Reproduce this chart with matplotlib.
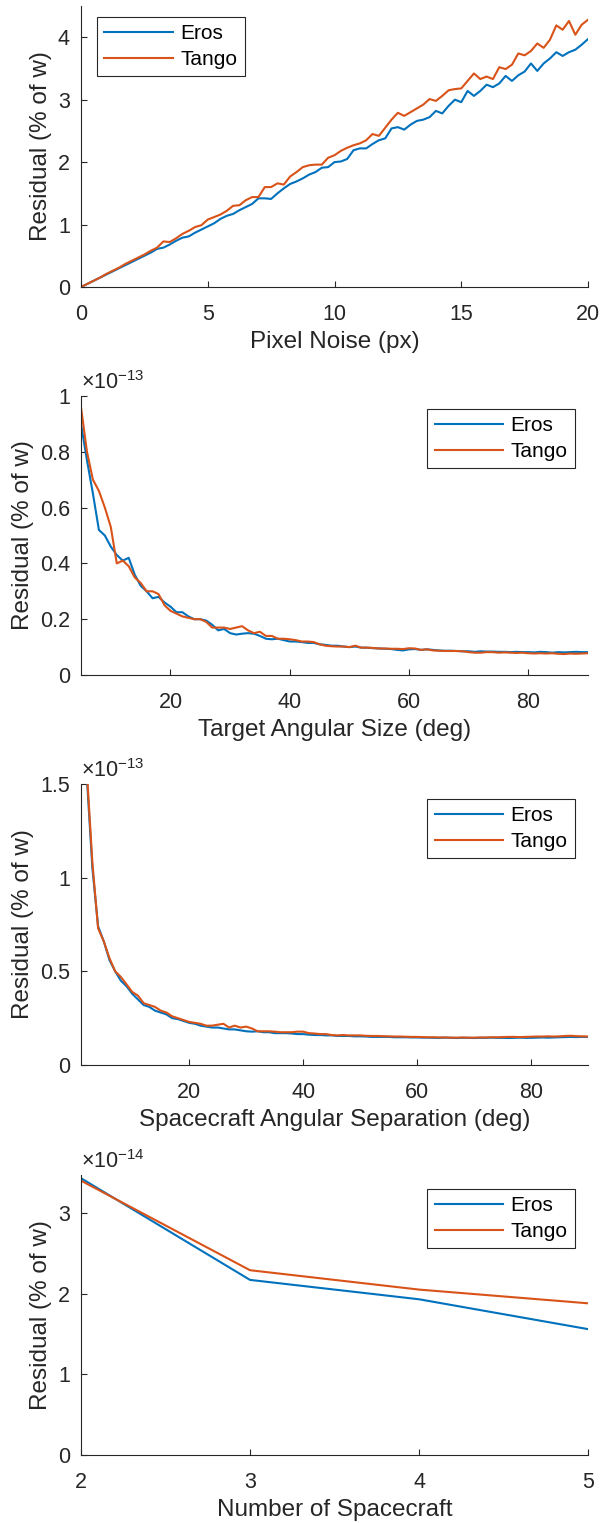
import numpy as np
import matplotlib
matplotlib.use("Agg")
import matplotlib.pyplot as plt
from matplotlib.ticker import FuncFormatter, FixedLocator

plt.rcParams['font.family'] = ['Liberation Sans', 'DejaVu Sans']
plt.rcParams['mathtext.fontset'] = 'custom'
plt.rcParams['mathtext.rm'] = 'Liberation Sans'
plt.rcParams['mathtext.it'] = 'Liberation Sans:italic'
plt.rcParams['mathtext.bf'] = 'Liberation Sans:bold'

EROS_C = '#0072BD'
TANGO_C = '#D95319'
AX_C = '#262626'

# ---------------- Data ----------------
# Panel 1: pixel noise
noise_px = [0.0, 0.25, 0.5, 0.75, 1.0, 1.25, 1.5, 1.75, 2.0, 2.25, 2.5, 2.75,
            3.0, 3.25, 3.5, 3.75, 4.0, 4.25, 4.5, 4.75, 5.0, 5.25, 5.5, 5.75,
            6.0, 6.25, 6.5, 6.75, 7.0, 7.25, 7.5, 7.75, 8.0, 8.25, 8.5, 8.75,
            9.0, 9.25, 9.5, 9.75, 10.0, 10.25, 10.5, 10.75, 11.0, 11.25, 11.5,
            11.75, 12.0, 12.25, 12.5, 12.75, 13.0, 13.25, 13.5, 13.75, 14.0,
            14.25, 14.5, 14.75, 15.0, 15.25, 15.5, 15.75, 16.0, 16.25, 16.5,
            16.75, 17.0, 17.25, 17.5, 17.75, 18.0, 18.25, 18.5, 18.75, 19.0,
            19.25, 19.5, 19.75, 20.0]
noise_eros = [0.00, 0.05, 0.10, 0.15, 0.20, 0.25, 0.30, 0.35, 0.40, 0.45, 0.50, 0.55,
              0.61, 0.63, 0.68, 0.74, 0.79, 0.81, 0.87, 0.92, 0.97, 1.02, 1.09, 1.14,
              1.17, 1.23, 1.28, 1.33, 1.42, 1.42, 1.41, 1.50, 1.58, 1.65, 1.69, 1.74,
              1.80, 1.84, 1.91, 1.92, 2.00, 2.01, 2.05, 2.19, 2.22, 2.22, 2.29,
              2.35, 2.38, 2.54, 2.56, 2.52, 2.60, 2.66, 2.68, 2.72, 2.82,
              2.78, 2.90, 3.00, 2.96, 3.14, 3.06, 3.14, 3.24, 3.20, 3.26,
              3.38, 3.30, 3.39, 3.45, 3.58, 3.46, 3.58, 3.66, 3.76, 3.70,
              3.76, 3.80, 3.88, 3.97]
noise_tango = [0.00, 0.05, 0.10, 0.15, 0.21, 0.26, 0.31, 0.37, 0.42, 0.47, 0.52, 0.58,
               0.63, 0.73, 0.72, 0.78, 0.85, 0.90, 0.96, 0.99, 1.08, 1.12, 1.16, 1.22,
               1.30, 1.31, 1.39, 1.44, 1.44, 1.60, 1.60, 1.66, 1.64, 1.77, 1.84, 1.92,
               1.95, 1.96, 1.96, 2.07, 2.11, 2.18, 2.23, 2.27, 2.30, 2.35, 2.45,
               2.42, 2.55, 2.68, 2.79, 2.74, 2.80, 2.86, 2.92, 3.01, 2.98,
               3.06, 3.15, 3.17, 3.18, 3.30, 3.42, 3.33, 3.37, 3.33, 3.52,
               3.49, 3.56, 3.74, 3.71, 3.78, 3.90, 3.83, 3.96, 4.19, 4.12,
               4.26, 4.04, 4.20, 4.28]

# Panel 2: target angular size (values in units of 1e-13)
size_deg = list(range(5, 91))
size_eros = [0.90, 0.77, 0.65, 0.52, 0.50, 0.46, 0.43, 0.41, 0.42, 0.36,
             0.32, 0.30, 0.275, 0.28, 0.26, 0.245, 0.225, 0.225, 0.21, 0.20,
             0.20, 0.195, 0.18, 0.16, 0.165, 0.15, 0.145, 0.148, 0.15, 0.148,
             0.14, 0.13, 0.128, 0.13, 0.125, 0.12, 0.12, 0.118, 0.115, 0.115,
             0.11, 0.108, 0.105, 0.105, 0.102, 0.10, 0.102, 0.098, 0.098, 0.096,
             0.095, 0.094, 0.093, 0.09, 0.088, 0.092, 0.093, 0.09, 0.092, 0.09,
             0.088, 0.087, 0.087, 0.086, 0.085, 0.085, 0.083, 0.085, 0.084, 0.084,
             0.083, 0.083, 0.082, 0.083, 0.082, 0.082, 0.081, 0.083, 0.082, 0.080,
             0.082, 0.081, 0.082, 0.083, 0.082, 0.082]
size_tango = [0.96, 0.80, 0.70, 0.66, 0.60, 0.53, 0.40, 0.41, 0.39, 0.35,
              0.33, 0.30, 0.30, 0.29, 0.25, 0.23, 0.22, 0.21, 0.205, 0.20,
              0.20, 0.19, 0.17, 0.17, 0.17, 0.165, 0.17, 0.175, 0.16, 0.15,
              0.155, 0.14, 0.14, 0.13, 0.13, 0.128, 0.125, 0.12, 0.12, 0.118,
              0.11, 0.105, 0.103, 0.102, 0.102, 0.10, 0.105, 0.098, 0.098, 0.097,
              0.095, 0.095, 0.094, 0.094, 0.093, 0.096, 0.095, 0.09, 0.092, 0.088,
              0.087, 0.086, 0.086, 0.086, 0.085, 0.082, 0.080, 0.080, 0.082, 0.082,
              0.080, 0.081, 0.080, 0.079, 0.080, 0.078, 0.077, 0.078, 0.077, 0.078,
              0.076, 0.075, 0.077, 0.076, 0.077, 0.078]

# Panel 3: spacecraft angular separation (values in units of 1e-13)
sep_deg = list(range(1, 91))
sep_eros = [3.20, 1.55, 1.05, 0.74, 0.66, 0.56, 0.50, 0.45, 0.42, 0.38,
            0.35, 0.32, 0.31, 0.29, 0.28, 0.27, 0.25, 0.245, 0.235, 0.225,
            0.22, 0.21, 0.205, 0.20, 0.20, 0.195, 0.19, 0.19, 0.185, 0.18,
            0.178, 0.18, 0.175, 0.175, 0.17, 0.17, 0.17, 0.168, 0.165, 0.165,
            0.162, 0.16, 0.16, 0.158, 0.158, 0.155, 0.155, 0.155, 0.153, 0.153,
            0.152, 0.150, 0.150, 0.150, 0.150, 0.148, 0.148, 0.148, 0.147, 0.147,
            0.146, 0.146, 0.145, 0.145, 0.146, 0.145, 0.144, 0.145, 0.145, 0.144,
            0.145, 0.145, 0.146, 0.145, 0.145, 0.144, 0.145, 0.146, 0.145, 0.145,
            0.146, 0.147, 0.146, 0.147, 0.148, 0.149, 0.150, 0.149, 0.150, 0.150]
sep_tango = [3.20, 1.58, 1.08, 0.73, 0.66, 0.57, 0.50, 0.47, 0.43, 0.39,
             0.37, 0.33, 0.32, 0.31, 0.29, 0.28, 0.26, 0.25, 0.24, 0.23,
             0.225, 0.22, 0.21, 0.21, 0.215, 0.22, 0.20, 0.21, 0.20, 0.205,
             0.195, 0.18, 0.18, 0.18, 0.178, 0.175, 0.175, 0.175, 0.178, 0.178,
             0.17, 0.168, 0.165, 0.165, 0.16, 0.158, 0.16, 0.158, 0.158, 0.158,
             0.156, 0.155, 0.155, 0.154, 0.153, 0.152, 0.152, 0.151, 0.150, 0.150,
             0.149, 0.148, 0.148, 0.147, 0.147, 0.146, 0.146, 0.147, 0.146, 0.146,
             0.147, 0.147, 0.148, 0.148, 0.149, 0.150, 0.150, 0.149, 0.150, 0.151,
             0.152, 0.152, 0.153, 0.152, 0.153, 0.155, 0.156, 0.154, 0.153, 0.152]

# Panel 4: number of spacecraft (values in units of 1e-14)
n_sc = [2, 3, 4, 5]
n_eros = [3.43, 2.17, 1.93, 1.56]
n_tango = [3.40, 2.29, 2.05, 1.88]

series_labels = ['Eros', 'Tango']

# ---------------- Figure ----------------
W, H = 602, 1523
fig = plt.figure(figsize=(W / 100, H / 100), dpi=100)

def axes_px(left, right, top, bottom):
    return fig.add_axes([left / W, 1 - bottom / H, (right - left) / W, (bottom - top) / H])

TICK_FS = 15.5
LABEL_FS = 17.5
LEG_FS = 15

def style(ax):
    for s in ['top', 'right']:
        ax.spines[s].set_visible(False)
    for s in ['left', 'bottom']:
        ax.spines[s].set_color(AX_C)
        ax.spines[s].set_linewidth(0.8)
    ax.tick_params(direction='in', length=4, width=0.8, color=AX_C,
                   labelcolor=AX_C, labelsize=TICK_FS)
    ax.tick_params(axis='x', pad=12)
    ax.tick_params(axis='y', pad=8)

def legend(ax, loc, anchor):
    leg = ax.legend(series_labels, loc=loc, bbox_to_anchor=anchor,
                    fontsize=LEG_FS, frameon=True,
                    fancybox=False, edgecolor=AX_C, framealpha=1,
                    handlelength=3.3, handletextpad=0.35, labelspacing=0.33,
                    borderpad=0.35, borderaxespad=0.0)
    leg.get_frame().set_linewidth(0.8)
    for t in leg.get_texts():
        t.set_color('black')

def exp_text(ax, txt):
    ax.text(0.0, 1.008, txt, transform=ax.transAxes, ha='left', va='bottom',
            fontsize=TICK_FS, color=AX_C)

def scaled_fmt(scale):
    return FuncFormatter(lambda v, p: f"{v / scale:g}")

LW = 1.5

# Panel 1
ax1 = axes_px(81, 588, 6, 287)
ax1.plot(noise_px, noise_eros, color=EROS_C, lw=LW)
ax1.plot(noise_px, noise_tango, color=TANGO_C, lw=LW)
ax1.set_xlim(0, 20)
ax1.set_ylim(0, 4.5)
ax1.xaxis.set_major_locator(FixedLocator([0, 5, 10, 15, 20]))
ax1.yaxis.set_major_locator(FixedLocator([0, 1, 2, 3, 4]))
ax1.set_xlabel('Pixel Noise (px)', fontsize=LABEL_FS, color=AX_C, labelpad=4.5)
ax1.set_ylabel('Residual (% of w)', fontsize=LABEL_FS, color=AX_C)
style(ax1)
legend(ax1, 'upper left', (16 / 507, 1 - 11 / 281))

# Panel 2
s13 = 1e-13
ax2 = axes_px(81, 588, 396, 675)
ax2.plot(size_deg, [v * s13 for v in size_eros], color=EROS_C, lw=LW)
ax2.plot(size_deg, [v * s13 for v in size_tango], color=TANGO_C, lw=LW)
ax2.set_xlim(5, 90)
ax2.set_ylim(0, 1.0 * s13)
ax2.xaxis.set_major_locator(FixedLocator([20, 40, 60, 80]))
ax2.yaxis.set_major_locator(FixedLocator([v * s13 for v in [0, 0.2, 0.4, 0.6, 0.8, 1.0]]))
ax2.yaxis.set_major_formatter(scaled_fmt(s13))
ax2.set_xlabel('Target Angular Size (deg)', fontsize=LABEL_FS, color=AX_C, labelpad=4.5)
ax2.set_ylabel('Residual (% of w)', fontsize=LABEL_FS, color=AX_C)
style(ax2)
exp_text(ax2, r'$\times10^{-13}$')
legend(ax2, 'upper right', (1 - 13 / 507, 1 - 13 / 279))

# Panel 3
ax3 = axes_px(81, 588, 784, 1065)
ax3.plot(sep_deg, [v * s13 for v in sep_eros], color=EROS_C, lw=LW)
ax3.plot(sep_deg, [v * s13 for v in sep_tango], color=TANGO_C, lw=LW)
ax3.set_xlim(1, 90)
ax3.set_ylim(0, 1.5 * s13)
ax3.xaxis.set_major_locator(FixedLocator([20, 40, 60, 80]))
ax3.yaxis.set_major_locator(FixedLocator([v * s13 for v in [0, 0.5, 1.0, 1.5]]))
ax3.yaxis.set_major_formatter(scaled_fmt(s13))
ax3.set_xlabel('Spacecraft Angular Separation (deg)', fontsize=LABEL_FS, color=AX_C, labelpad=4.5)
ax3.set_ylabel('Residual (% of w)', fontsize=LABEL_FS, color=AX_C)
style(ax3)
exp_text(ax3, r'$\times10^{-13}$')
legend(ax3, 'upper right', (1 - 13 / 507, 1 - 15 / 281))

# Panel 4
s14 = 1e-14
ax4 = axes_px(81, 588, 1175, 1455)
ax4.plot(n_sc, [v * s14 for v in n_eros], color=EROS_C, lw=LW)
ax4.plot(n_sc, [v * s14 for v in n_tango], color=TANGO_C, lw=LW)
ax4.set_xlim(2, 5)
ax4.set_ylim(0, 3.47 * s14)
ax4.xaxis.set_major_locator(FixedLocator([2, 3, 4, 5]))
ax4.yaxis.set_major_locator(FixedLocator([v * s14 for v in [0, 1, 2, 3]]))
ax4.yaxis.set_major_formatter(scaled_fmt(s14))
ax4.set_xlabel('Number of Spacecraft', fontsize=LABEL_FS, color=AX_C, labelpad=4.5)
ax4.set_ylabel('Residual (% of w)', fontsize=LABEL_FS, color=AX_C)
style(ax4)
exp_text(ax4, r'$\times10^{-14}$')
legend(ax4, 'upper right', (1 - 13 / 507, 1 - 14 / 280))

fig.savefig('out.png', dpi=100, facecolor='white')
